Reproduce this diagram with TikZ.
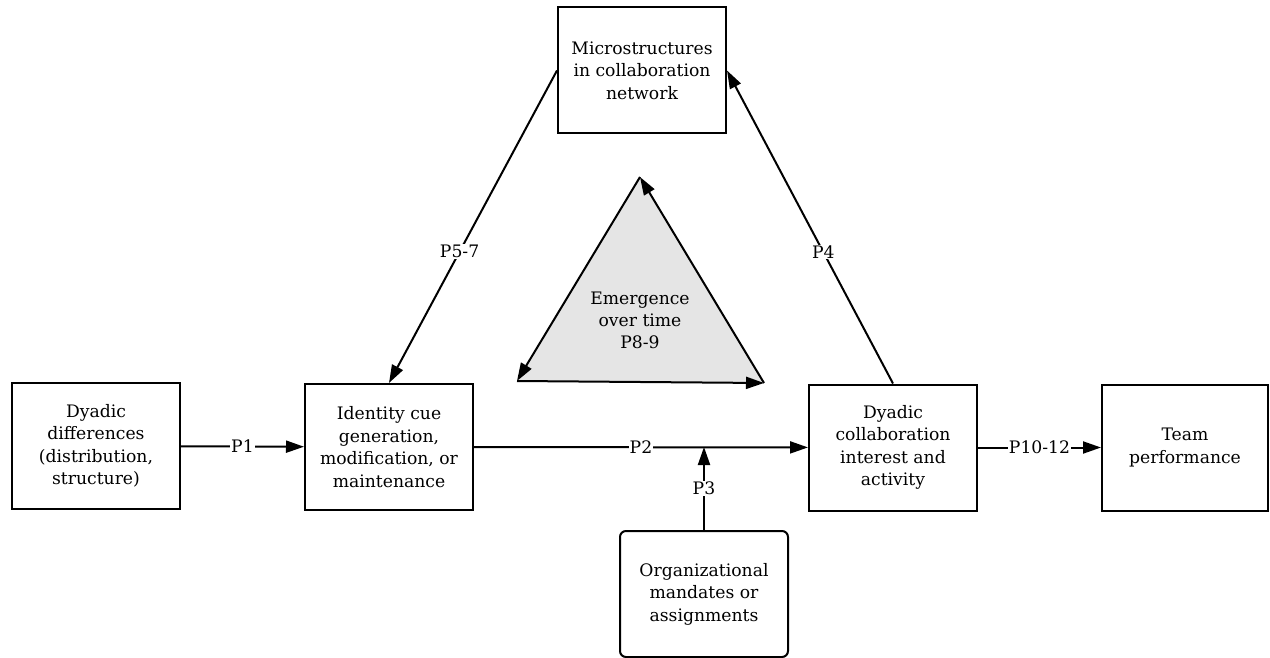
\documentclass[tikz,border=0pt]{standalone}
\usepackage{fontspec}
\setmainfont{DejaVu Serif}
\usetikzlibrary{arrows.meta}
\begin{document}
\begin{tikzpicture}[x=1pt,y=-1pt,
 box/.style={draw, line width=2pt, minimum width=168pt, minimum height=126pt, align=center, font=\fontsize{17.2}{22.5}\selectfont, inner sep=0pt},
 lab/.style={fill=white, inner sep=1pt, font=\fontsize{17.2}{20}\selectfont},
 txt/.style={align=center, font=\fontsize{17.2}{22}\selectfont, inner sep=0pt},
 arr/.style={line width=2pt, -{Triangle[length=18pt,width=12pt]}}]
\useasboundingbox (0,0) rectangle (1270,658);
\node[box] (dd) at (96,446) {Dyadic\\differences\\(distribution,\\structure)};
\node[box] (ic) at (389,447) {Identity cue\\generation,\\modification, or\\maintenance};
\node[box] (ms) at (642,70.5) {Microstructures\\in collaboration\\network};
\node[box] (dc) at (893,447.5) {Dyadic\\collaboration\\interest and\\activity};
\node[box, minimum width=166pt] (tp) at (1185,447.5) {Team\\performance};
\node[box, rounded corners=6pt] (org) at (704,594) {Organizational\\mandates or\\assignments};
\coordinate (m) at (704,447);
\draw[arr] (dd) -- node[lab] {P1} (ic);
\draw[arr] (ic) -- node[lab, pos=0.5] {P2} (dc);
\draw[arr] (org.north) -- node[lab] {P3} (m);
\draw[arr] (dc) -- node[lab] {P10-12} (tp);
\draw[arr] (ms.west) -- node[lab, pos=0.58] {P5-7} (ic.north);
\draw[arr] (dc.north) -- node[lab, pos=0.42] {P4} (ms.east);
% emergence triangle
\coordinate (T) at (640,177);
\coordinate (L) at (517,381);
\coordinate (R) at (764,383);
\fill[black!10] (T) -- (L) -- (R) -- cycle;
\draw[arr] (T) -- (L);
\draw[arr] (L) -- (R);
\draw[arr] (R) -- (T);
\node[txt] (em) at (640,320) {Emergence\\over time\\P8-9};
\end{tikzpicture}
\end{document}
